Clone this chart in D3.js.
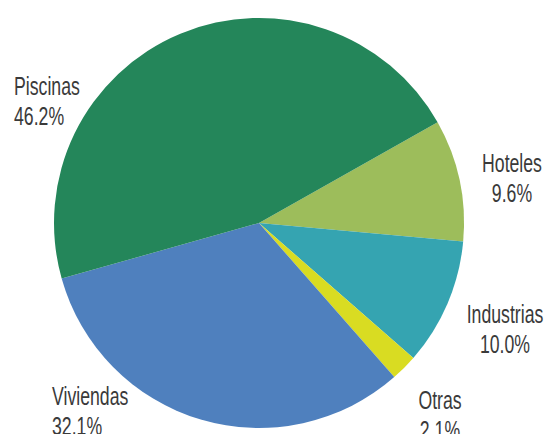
<!DOCTYPE html>
<html>
<head>
    <meta charset="utf-8">
    <title>Pie</title>
    <script src="https://cdn.jsdelivr.net/npm/d3@7"></script>
    <style>
        body { margin: 0; background: #fff; }
        .label { font-family: "Liberation Sans Narrow", "Liberation Sans", sans-serif; font-size: 26px; fill: #3a3a3a; }
    </style>
</head>
<body>
<script>
    // data, in the drawing order (clockwise from the Hoteles edge)
    var categories = ["Hoteles", "Industrias", "Otras", "Viviendas", "Piscinas"];
    var values = [9.6, 10.0, 2.1, 32.1, 46.2];
    var colors = ["#9dbd5b", "#35a4b1", "#d9dc22", "#4f80be", "#24865a"];

    // hand placed label anchors [x, y of first baseline, anchor]
    var labelPos = [
        [512, 172, "middle"],
        [505, 323, "middle"],
        [440, 409, "middle"],
        [52, 405, "start"],
        [14, 95, "start"]
    ];

    var width = 547, height = 434;
    var cx = 259, cy = 223, radius = 205;
    var start = 60.6 * Math.PI / 180;

    var svg = d3.select("body").append("svg")
        .attr("width", width)
        .attr("height", height);

    var pie = d3.pie()
        .sort(null)
        .value(function (d) { return d; })
        .startAngle(start)
        .endAngle(start + 2 * Math.PI);

    var arc = d3.arc().innerRadius(0).outerRadius(radius);

    svg.append("g")
        .attr("transform", "translate(" + cx + "," + cy + ")")
        .selectAll("path")
        .data(pie(values))
        .enter().append("path")
        .attr("d", arc)
        .attr("fill", function (d, i) { return colors[i]; });

    var fmt = d3.format(".1f");
    var lab = svg.selectAll("g.lab")
        .data(categories)
        .enter().append("g")
        .attr("class", "lab")
        .attr("transform", function (d, i) {
            return "translate(" + labelPos[i][0] + "," + labelPos[i][1] + ") scale(0.68,1)";
        });

    lab.append("text")
        .attr("class", "label")
        .attr("text-anchor", function (d, i) { return labelPos[i][2]; })
        .text(function (d) { return d; });

    lab.append("text")
        .attr("class", "label")
        .attr("y", 30)
        .attr("text-anchor", function (d, i) { return labelPos[i][2]; })
        .text(function (d, i) { return fmt(values[i]) + "%"; });
</script>
</body>
</html>
